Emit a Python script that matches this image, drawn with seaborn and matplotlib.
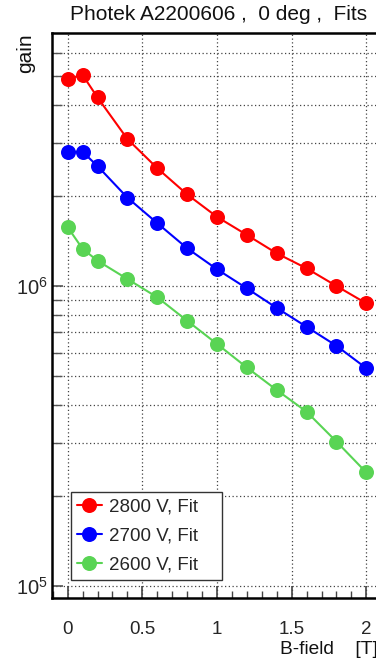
import numpy as np
import pandas as pd
import matplotlib
matplotlib.use("Agg")
import matplotlib.pyplot as plt
from matplotlib.ticker import FixedLocator, LogLocator, NullFormatter, FixedFormatter
import seaborn as sns

# Magnetic field scan points [T]
bfield = [0.0, 0.1, 0.2, 0.4, 0.6, 0.8, 1.0, 1.2, 1.4, 1.6, 1.8, 2.0]

# Fitted gain per high-voltage setting
gain_2800 = [4.90e6, 5.05e6, 4.25e6, 3.09e6, 2.47e6, 2.02e6, 1.70e6, 1.48e6,
             1.285e6, 1.145e6, 1.00e6, 8.75e5]
gain_2700 = [2.80e6, 2.80e6, 2.51e6, 1.97e6, 1.62e6, 1.336e6, 1.137e6, 9.82e5,
             8.45e5, 7.31e5, 6.32e5, 5.32e5]
gain_2600 = [1.57e6, 1.33e6, 1.214e6, 1.055e6, 9.17e5, 7.66e5, 6.41e5, 5.35e5,
             4.50e5, 3.81e5, 3.03e5, 2.39e5]

series_labels = ["2800 V, Fit", "2700 V, Fit", "2600 V, Fit"]
series_colors = ["#ff0000", "#0000ff", "#59d454"]

x_ticks = [0, 0.5, 1, 1.5, 2]
x_tick_labels = ["0", "0.5", "1", "1.5", "2"]

title_text = "Photek A2200606 ,  0 deg ,  Fits"
x_title = "B-field    [T]"
y_title = "gain"

sns.set_theme(style="white")
plt.rcParams["font.family"] = ["Liberation Sans", "DejaVu Sans"]
plt.rcParams["mathtext.fontset"] = "custom"
plt.rcParams["mathtext.rm"] = "Liberation Sans"
plt.rcParams["mathtext.it"] = "Liberation Sans:italic"

df = pd.DataFrame({
    "bfield": bfield * 3,
    "gain": gain_2800 + gain_2700 + gain_2600,
    "series": [series_labels[0]] * len(bfield)
              + [series_labels[1]] * len(bfield)
              + [series_labels[2]] * len(bfield),
})

W, H = 376, 662
fig = plt.figure(figsize=(W / 100, H / 100), dpi=100)

# frame in pixels: left edge, top, bottom; right edge runs past the canvas
x0_data, x1_data = -0.105, 2.2
px_per_unit = 149.3
left_px = 52
right_px = 67.7 + x1_data * px_per_unit
top_px, bottom_px = 33, 598
ax = fig.add_axes([left_px / W, 1 - bottom_px / H,
                   (right_px - left_px) / W, (bottom_px - top_px) / H])

# grid behind data
ax.set_axisbelow(True)

marker_size = 10.8
sns.lineplot(data=df, x="bfield", y="gain", hue="series",
             hue_order=series_labels, palette=series_colors,
             marker="o", markersize=marker_size, markeredgewidth=0,
             linewidth=1.5, legend=False, ax=ax, sort=False)

ax.set_yscale("log")
ax.set_xlim(x0_data, x1_data)
ax.set_ylim(10 ** 4.96, 10 ** 6.8433)

ax.xaxis.set_major_locator(FixedLocator(x_ticks))
ax.xaxis.set_major_formatter(FixedFormatter(x_tick_labels))
ax.xaxis.set_minor_locator(FixedLocator(np.arange(-0.1, 2.25, 0.1)))
ax.yaxis.set_major_locator(LogLocator(base=10, numticks=10))
ax.yaxis.set_minor_locator(LogLocator(base=10, subs=np.arange(2, 10), numticks=20))
ax.yaxis.set_minor_formatter(NullFormatter())

ax.tick_params(axis="x", which="major", direction="in", length=9, width=1.2,
               color="#444444", labelsize=13.5, pad=16.5)
ax.tick_params(axis="x", which="minor", direction="in", length=5, width=1.0,
               color="#444444")
ax.tick_params(axis="y", which="major", direction="in", length=8, width=1.2,
               color="#555555", labelsize=14.5, pad=3)
ax.tick_params(axis="y", which="minor", direction="in", length=7, width=1.0,
               color="#555555")
ax.tick_params(bottom=True, left=True, which="both")

grid_style = dict(color="#444444", linestyle=(0, (1, 2)), linewidth=0.9)
ax.grid(True, axis="x", which="major", **grid_style)
ax.grid(True, axis="y", which="both", **grid_style)

for side in ["left", "bottom", "top", "right"]:
    ax.spines[side].set_color("black")
    ax.spines[side].set_linewidth(1.8)

ax.set_xlabel("")
ax.set_ylabel("")

# legend box, stretched to a fixed width
handles = [plt.Line2D([], [], color=c, marker="o", markersize=marker_size,
                      markeredgewidth=0, linewidth=1.5) for c in series_colors]
leg = ax.legend(handles, series_labels, loc="lower left",
                bbox_to_anchor=(70.7 / W, 1 - 580 / H, 151 / W, 92 / H),
                bbox_transform=fig.transFigure, mode="expand",
                fontsize=13.5, frameon=True, fancybox=False,
                handlelength=1.3, handletextpad=0.4, labelspacing=0.62,
                borderpad=0.35, borderaxespad=0.0)
leg.get_frame().set_edgecolor("#333333")
leg.get_frame().set_linewidth(1.0)
leg.get_frame().set_facecolor("white")
leg.get_frame().set_alpha(1.0)

fig.text(219 / W, 1 - 14.5 / H, title_text, ha="center", va="center",
         fontsize=15, color="#111111")
fig.text(280 / W, 1 - 649 / H, x_title, ha="left", va="center",
         fontsize=13.8, color="#111111")
fig.text(26 / W, 1 - 33 / H, y_title, ha="center", va="top",
         rotation=90, fontsize=15, color="#111111")

fig.savefig("out.png", dpi=100)
